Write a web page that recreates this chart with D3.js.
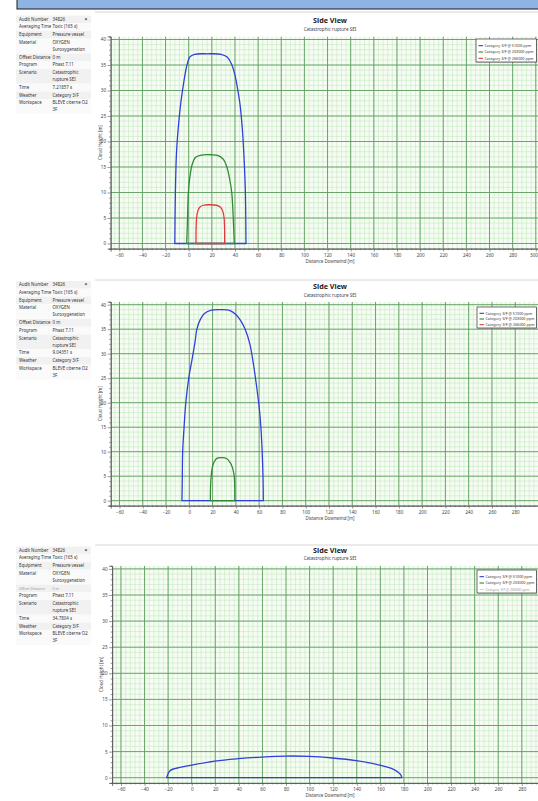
<!DOCTYPE html>
<html>
<head>
<meta charset="utf-8">
<script src="https://cdn.jsdelivr.net/npm/d3@7"></script>
<style>
  html, body { margin: 0; padding: 0; background: #fff; overflow: hidden; }
  svg { display: block; font-family: "Noto Sans", "Open Sans", sans-serif; }
</style>
</head>
<body>
<svg id="chart" width="538" height="801"></svg>
<script>
// ---------- data ----------
const distanceTicks = [-60, -40, -20, 0, 20, 40, 60, 80, 100, 120, 140, 160, 180, 200, 220, 240, 260, 280, 300];
const heightTicks = [0, 5, 10, 15, 20, 25, 30, 35, 40];

const seriesNames = ["Category 3/F @ 51000 ppm", "Category 3/F @ 203000 ppm", "Category 3/F @ 266000 ppm"];
const seriesColors = ["#3040d8", "#2f8a35", "#e23a3a"];

const infoLabels = ["Audit Number", "Averaging Time", "Equipment", "Material", "Offset Distance", "Program", "Scenario", "Time", "Weather", "Workspace"];
const auditNumber = ["34826"];
const averagingTime = ["Toxic (165 s)"];
const equipment = ["Pressure vessel"];
const material = ["OXYGEN", "Suroxygenation"];
const offsetDistance = ["0 m"];
const program = ["Phast 7.11"];
const scenario = ["Catastrophic", "rupture SEI"];
const snapshotTimes = ["7.21857 s", "9.04351 s", "34.7804 s"];
const weather = ["Category 3/F"];
const workspace = ["BLEVE citerne O2", "3F"];

// cloud outlines [distance downwind m, height m], t = 7.21857 s
const cloud51000T1 = [[-12, 0], [-11.5, 10], [-10.5, 18], [-8.5, 24], [-6.6, 28], [-4, 32], [-1.5, 35], [1, 36.6], [5, 37.1], [16, 37.2], [28, 37.1], [33, 36.6], [37, 35.2], [40, 33], [42.5, 30], [44.5, 27], [46.5, 22], [48, 16], [49, 10], [49.5, 0]];
const cloud203000T1 = [[-1.7, 0], [-1, 5], [-0.3, 10], [1, 13], [3, 15.5], [6, 16.9], [10, 17.3], [20, 17.4], [26, 17.2], [30, 16.5], [33, 15], [35.5, 12.5], [37.2, 10], [38.5, 5], [39.4, 0]];
const cloud266000T1 = [[6.3, 0], [6.4, 3], [6.8, 5], [7.8, 6.3], [9.5, 7.1], [12.5, 7.5], [18, 7.6], [24, 7.5], [27.5, 7.1], [29.5, 6.3], [30.6, 5], [31, 3], [31.1, 0]];
// t = 9.04351 s
const cloud51000T2 = [[-6.3, 0], [-6, 5], [-5.7, 10], [-4.5, 15], [-3, 20], [-0.5, 25], [2.5, 29], [5, 32.5], [6.5, 35], [9.5, 37], [13, 38.2], [19, 38.9], [27, 39], [35, 38.8], [40, 38], [44, 36.8], [48, 35], [52, 32], [55, 28], [58, 23], [60.5, 18], [61.5, 15], [62.6, 10], [63.3, 5], [63.6, 0]];
const cloud203000T2 = [[18.1, 0], [18.3, 3], [18.8, 5], [19.8, 6.8], [21.5, 8], [24, 8.7], [28, 8.8], [32, 8.6], [35, 7.8], [37, 6.8], [38.6, 5], [39, 3], [39.1, 0]];
// t = 34.7804 s
const cloud51000T3 = [[-21.2, 0], [-18.4, 1.34], [-9.9, 1.98], [0, 2.43], [19.8, 3.19], [39.6, 3.64], [59.7, 3.96], [79.8, 4.15], [99.6, 4.09], [119.4, 3.77], [139.5, 3.26], [159.3, 2.43], [171.2, 1.6], [176.9, 0.7], [178.3, 0]];

// ---------- layout ----------
const W = 538;
const panels = [
  { lineY: 12, titleY: 22.5, subY: 30.5, tableY: 15.5, x0: 188.7, xk: 1.157, y0: 243.5, yk: 5.1,
    legend: { x: 476, y: 39, h: 23 }, fadedRow: false, time: snapshotTimes[0],
    clouds: [cloud51000T1, cloud203000T1, cloud266000T1] },
  { lineY: 280, titleY: 289, subY: 296.5, tableY: 281, x0: 189.3, xk: 1.164, y0: 500.7, yk: 4.9,
    legend: { x: 477, y: 307, h: 21 }, fadedRow: false, time: snapshotTimes[1],
    clouds: [cloud51000T2, cloud203000T2] },
  { lineY: 545, titleY: 552.5, subY: 560, tableY: 546.5, x0: 191.7, xk: 1.179, y0: 777.7, yk: 5.22,
    legend: { x: 477, y: 570, h: 23 }, fadedRow: true, time: snapshotTimes[2],
    clouds: [cloud51000T3] }
];

const svg = d3.select("#chart");
const xMin = -67.5, xMax = 315, zMin = -1, zMax = 40.6;

// header bar
svg.append("rect").attr("x", 17).attr("y", -2).attr("width", 530).attr("height", 11)
  .attr("fill", "#8db4e3").attr("stroke", "#1b1b1b").attr("stroke-width", 1);

function drawTable(g, p) {
  const rows = [auditNumber, averagingTime, equipment, material, offsetDistance, program, scenario, [p.time], weather, workspace];
  const lineH = 7.0, pad = 0.75;
  let y = p.tableY;
  const tbl = g.append("g");
  rows.forEach((vals, i) => {
    const h = vals.length * lineH + pad;
    tbl.append("rect").attr("x", 16).attr("y", y).attr("width", 75).attr("height", h)
      .attr("fill", i % 2 === 0 ? "#f1f1f1" : "#fafafa");
    const faded = p.fadedRow && i === 4;
    tbl.append("text").attr("x", 19).attr("y", y + 5.1)
      .attr("font-size", faded ? 3.6 : 4.4).attr("fill", faded ? "#9a9a9a" : "#333")
      .text(infoLabels[i]);
    vals.forEach((v, j) => {
      tbl.append("text").attr("x", 52.5).attr("y", y + 5.1 + j * lineH)
        .attr("font-size", faded ? 3.6 : 4.4).attr("fill", faded ? "#9a9a9a" : "#333")
        .text(v);
    });
    if (i === 0) {
      tbl.append("text").attr("x", 86).attr("y", y + 5.2).attr("font-size", 5)
        .attr("text-anchor", "middle").attr("fill", "#222").attr("font-weight", "bold").text("×");
    }
    y += h;
  });
}

panels.forEach((p, pi) => {
  const g = svg.append("g");
  const x = d3.scaleLinear().domain([xMin, xMax]).range([p.x0 + xMin * p.xk, p.x0 + xMax * p.xk]);
  const y = d3.scaleLinear().domain([zMin, zMax]).range([p.y0 - zMin * p.yk, p.y0 - zMax * p.yk]);
  const left = x(xMin), right = x(xMax), top = y(zMax), bottom = y(zMin);

  // widget top border
  g.append("line").attr("x1", 95).attr("x2", W).attr("y1", p.lineY).attr("y2", p.lineY)
    .attr("stroke", "#d6d6d6").attr("stroke-width", 1);

  drawTable(g, p);

  // titles
  g.append("text").attr("x", 330).attr("y", p.titleY).attr("text-anchor", "middle")
    .attr("font-size", 7.2).attr("font-weight", "bold").attr("fill", "#222").text("Side View");
  g.append("text").attr("x", 330).attr("y", p.subY).attr("text-anchor", "middle")
    .attr("font-size", 4.6).attr("fill", "#444").text("Catastrophic rupture SEI");

  // plot area
  const clipId = "clip" + pi;
  g.append("clipPath").attr("id", clipId).append("rect")
    .attr("x", left).attr("y", top).attr("width", right - left).attr("height", bottom - top);
  const plot = g.append("g").attr("clip-path", `url(#${clipId})`);
  plot.append("rect").attr("x", left).attr("y", top).attr("width", right - left).attr("height", bottom - top)
    .attr("fill", "#f6fcf4");

  const minorX = d3.range(-64, 316, 4), minorZ = d3.range(-1, 41, 1);
  plot.append("g").selectAll("line").data(minorX).join("line")
    .attr("x1", d => x(d)).attr("x2", d => x(d)).attr("y1", top).attr("y2", bottom)
    .attr("stroke", "#c4eac0").attr("stroke-width", 0.6);
  plot.append("g").selectAll("line").data(minorZ).join("line")
    .attr("y1", d => y(d)).attr("y2", d => y(d)).attr("x1", left).attr("x2", right)
    .attr("stroke", "#c4eac0").attr("stroke-width", 0.6);
  plot.append("g").selectAll("line").data(distanceTicks).join("line")
    .attr("x1", d => x(d)).attr("x2", d => x(d)).attr("y1", top).attr("y2", bottom)
    .attr("stroke", "#5c9e5c").attr("stroke-width", 0.9);
  plot.append("g").selectAll("line").data(heightTicks).join("line")
    .attr("y1", d => y(d)).attr("y2", d => y(d)).attr("x1", left).attr("x2", right)
    .attr("stroke", "#5c9e5c").attr("stroke-width", 0.9);

  // clouds
  const line = d3.line().x(d => x(d[0])).y(d => y(d[1])).curve(d3.curveCatmullRom.alpha(0.5));
  p.clouds.forEach((c, ci) => {
    plot.append("path").attr("d", line(c) + "Z").attr("fill", "none")
      .attr("stroke", seriesColors[ci]).attr("stroke-width", 1.3).attr("stroke-linejoin", "round");
  });

  // axes
  g.append("g").attr("transform", `translate(${left},0)`)
    .call(d3.axisLeft(y).tickValues(heightTicks).tickSize(3).tickPadding(1.5));
  g.append("g").attr("transform", `translate(${left},0)`)
    .call(d3.axisLeft(y).tickValues(minorZ.filter(v => v % 5 !== 0)).tickSize(1.5).tickFormat(""));
  const visibleTicks = distanceTicks.filter(v => x(v) < W);
  const xAxis = g.append("g").attr("transform", `translate(0,${bottom})`)
    .call(d3.axisBottom(x).tickValues(visibleTicks).tickSize(3).tickPadding(2));
  // keep the last label inside the frame
  xAxis.selectAll(".tick text").filter(d => x(d) > W - 6)
    .attr("text-anchor", "end").attr("x", d => W - 0.5 - x(d));
  g.append("g").attr("transform", `translate(0,${bottom})`)
    .call(d3.axisBottom(x).tickValues(minorX.filter(v => v % 20 !== 0)).tickSize(1.5).tickFormat(""));
  g.selectAll(".domain").attr("stroke", "#555").attr("stroke-width", 0.8);
  g.selectAll(".tick line").attr("stroke", "#555").attr("stroke-width", 0.6);
  g.selectAll(".tick text").attr("font-size", 4.6).attr("fill", "#444").attr("font-family", "Noto Sans, sans-serif");

  g.append("text").attr("x", 330).attr("y", bottom + 14).attr("text-anchor", "middle")
    .attr("font-size", 4.4).attr("fill", "#444").text("Distance Downwind [m]");
  g.append("text").attr("transform", `translate(${left - 9},${(top + bottom) / 2}) rotate(-90)`)
    .attr("text-anchor", "middle").attr("font-size", 4.4).attr("fill", "#444").text("Cloud Height [m]");

  // legend, its right edge sits on the frame edge
  const L = p.legend;
  const lw = W - 1.5 - L.x;
  const lg = g.append("g");
  lg.append("rect").attr("x", L.x + 0.8).attr("y", L.y + 0.8).attr("width", lw).attr("height", L.h)
    .attr("fill", "#999").attr("opacity", 0.5);
  lg.append("rect").attr("x", L.x).attr("y", L.y).attr("width", lw).attr("height", L.h)
    .attr("fill", "#fff").attr("stroke", "#333").attr("stroke-width", 0.7);
  const step = (L.h - 4) / 3;
  seriesNames.forEach((name, i) => {
    const faded = p.fadedRow && i === 2;
    const cy = L.y + 3.5 + step * (i + 0.5);
    lg.append("line").attr("x1", L.x + 2.5).attr("x2", L.x + 7).attr("y1", cy).attr("y2", cy)
      .attr("stroke", seriesColors[i]).attr("stroke-width", faded ? 0.6 : 1.1).attr("opacity", faded ? 0.6 : 1);
    lg.append("text").attr("x", L.x + 8.5).attr("y", cy + 1.3).attr("font-size", faded ? 3.3 : 3.7)
      .attr("fill", faded ? "#999" : "#333")
      .text(name);
  });
});
</script>
</body>
</html>
